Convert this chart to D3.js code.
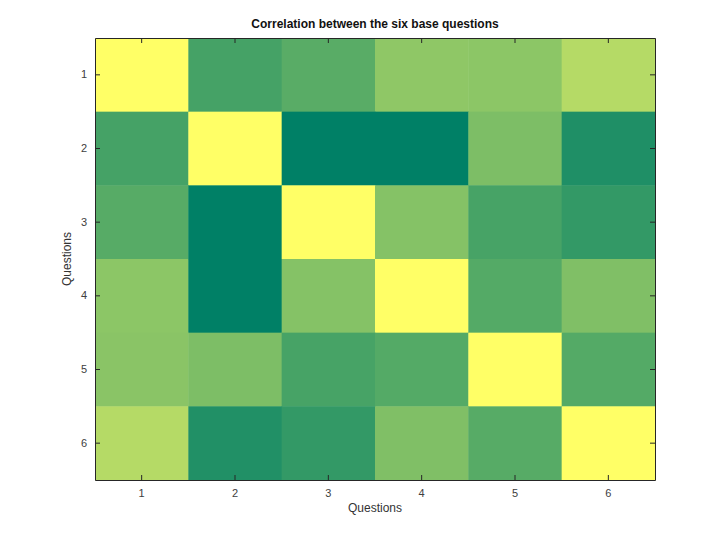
<!DOCTYPE html>
<html>
<head>
<meta charset="utf-8">
<script src="https://cdn.jsdelivr.net/npm/d3@7"></script>
<style>
  body { margin: 0; background: #fff; }
  text { font-family: "Liberation Sans", Arial, sans-serif; }
</style>
</head>
<body>
<div id="chart"></div>
<script>
// question labels and correlation matrix (row = y question, col = x question)
var questions = [1, 2, 3, 4, 5, 6];
var row1 = [1.00, 0.27, 0.35, 0.56, 0.55, 0.71];
var row2 = [0.27, 1.00, 0.00, 0.00, 0.49, 0.12];
var row3 = [0.34, 0.00, 1.00, 0.52, 0.28, 0.20];
var row4 = [0.55, 0.00, 0.52, 1.00, 0.33, 0.50];
var row5 = [0.54, 0.49, 0.28, 0.33, 1.00, 0.33];
var row6 = [0.71, 0.13, 0.20, 0.50, 0.34, 1.00];
var matrix = [row1, row2, row3, row4, row5, row6];

var svgWidth = 720;
var svgHeight = 539;
var margin = { top: 38, right: 65, bottom: 59, left: 95 };
var width = svgWidth - margin.left - margin.right;
var height = svgHeight - margin.top - margin.bottom;

var svg = d3.select("#chart")
    .append("svg")
    .attr("width", svgWidth)
    .attr("height", svgHeight);

var chartGroup = svg.append("g")
    .attr("transform", `translate(${margin.left}, ${margin.top})`);

// flatten into cells
var cells = [];
matrix.forEach(function(row, i) {
    row.forEach(function(v, j) {
        cells.push({ r: questions[i], c: questions[j], value: v });
    });
});

var xScale = d3.scaleBand().domain(questions).range([0, width]);
var yScale = d3.scaleBand().domain(questions).range([0, height]);

// MATLAB "summer" colormap, scaled to the data range
var extent = d3.extent(cells, d => d.value);
var tScale = d3.scaleLinear().domain(extent).range([0, 1]);
function summer(v) {
    var t = tScale(v);
    return d3.rgb(255 * t, 255 * (0.5 + t / 2), 255 * 0.4).toString();
}

chartGroup.selectAll("rect.cell")
    .data(cells)
    .enter()
    .append("rect")
    .attr("class", "cell")
    .attr("x", d => xScale(d.c))
    .attr("y", d => yScale(d.r))
    .attr("width", xScale.bandwidth() + 0.5)
    .attr("height", yScale.bandwidth() + 0.5)
    .attr("fill", d => summer(d.value));

// axes, ticks pointing inward like MATLAB
var axisColor = "#262626";
var tickLen = 5;

var xAxis = d3.axisBottom(xScale).tickSizeInner(-tickLen).tickSizeOuter(0).tickPadding(9);
var yAxis = d3.axisLeft(yScale).tickSizeInner(-tickLen).tickSizeOuter(0).tickPadding(8);
var xTop = d3.axisTop(xScale).tickSizeInner(-tickLen).tickSizeOuter(0).tickFormat("");
var yRight = d3.axisRight(yScale).tickSizeInner(-tickLen).tickSizeOuter(0).tickFormat("");

var gx = chartGroup.append("g").attr("transform", `translate(0, ${height})`).call(xAxis);
var gy = chartGroup.append("g").call(yAxis);
var gxt = chartGroup.append("g").call(xTop);
var gyr = chartGroup.append("g").attr("transform", `translate(${width}, 0)`).call(yRight);

[gx, gy, gxt, gyr].forEach(function(g) {
    g.select(".domain").attr("stroke", axisColor).attr("stroke-width", 1);
    g.selectAll(".tick line").attr("stroke", axisColor);
    g.selectAll(".tick text")
        .attr("fill", "#404040")
        .style("font-size", "11px")
        .style("font-family", "'Liberation Sans', Arial, sans-serif");
});

// title
chartGroup.append("text")
    .attr("x", width / 2)
    .attr("y", -10)
    .attr("text-anchor", "middle")
    .style("font-size", "12px")
    .style("font-weight", "bold")
    .attr("fill", "#111")
    .text("Correlation between the six base questions");

// axis labels
chartGroup.append("text")
    .attr("x", width / 2)
    .attr("y", height + 32)
    .attr("text-anchor", "middle")
    .style("font-size", "12px")
    .attr("fill", "#333")
    .text("Questions");

chartGroup.append("text")
    .attr("transform", "rotate(-90)")
    .attr("x", -height / 2)
    .attr("y", -24)
    .attr("text-anchor", "middle")
    .style("font-size", "12px")
    .attr("fill", "#333")
    .text("Questions");
</script>
</body>
</html>
